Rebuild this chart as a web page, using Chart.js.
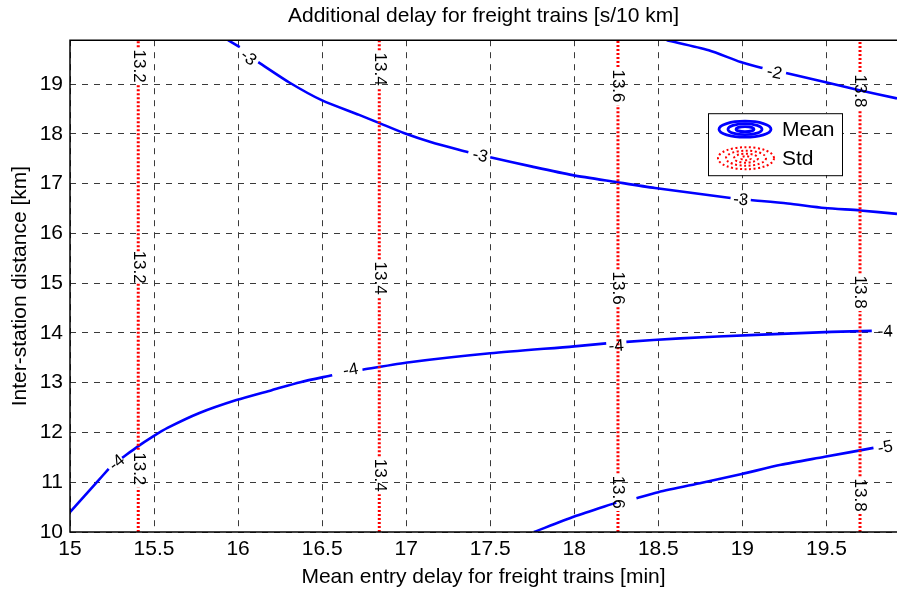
<!DOCTYPE html>
<html>
<head>
<meta charset="utf-8">
<script src="https://cdn.jsdelivr.net/npm/chart.js@4/dist/chart.umd.min.js"></script>
<style>
  body { margin: 0; background: #fff; }
  #delay-chart { display: block; }
</style>
</head>
<body>
<canvas id="delay-chart" width="897" height="592"></canvas>
<script>
// axis limits
const xMin = 15, xMax = 19.92;
const yMin = 10, yMax = 19.88;

// mean contours, null = break where the level label sits
const meanMinus2 = [[18.55, 19.88], [18.80, 19.68], [18.99, 19.44], [19.12, 19.32], null,
    [19.26, 19.22], [19.49, 19.04], [19.69, 18.88], [19.92, 18.71]];
const meanMinus3 = [[15.94, 19.88], [16.01, 19.74], null,
    [16.12, 19.44], [16.31, 19.02], [16.50, 18.67], [16.72, 18.38], [16.83, 18.23], [16.99, 18.01],
    [17.15, 17.83], [17.37, 17.63], null,
    [17.50, 17.53], [17.75, 17.34], [17.99, 17.17], [18.25, 17.03], [18.48, 16.91], [18.93, 16.71], null,
    [19.05, 16.67], [19.27, 16.60], [19.49, 16.51], [19.70, 16.46], [19.92, 16.39]];
const meanMinus4 = [[15.00, 10.40], [15.08, 10.70], [15.16, 11.00], [15.23, 11.27], null,
    [15.31, 11.49], [15.40, 11.71], [15.49, 11.91], [15.58, 12.09], [15.77, 12.39], [15.99, 12.65],
    [16.20, 12.85], [16.37, 13.01], [16.56, 13.15], null,
    [16.74, 13.26], [17.02, 13.41], [17.50, 13.59], [18.00, 13.73], [18.19, 13.79], null,
    [18.31, 13.82], [18.63, 13.89], [19.08, 13.96], [19.53, 14.02], [19.77, 14.04]];
const meanMinus5 = [[17.76, 10.00], [18.00, 10.31], [18.25, 10.59], null,
    [18.37, 10.68], [18.50, 10.80], [18.76, 10.99], [18.99, 11.16], [19.23, 11.35], [19.49, 11.51],
    [19.78, 11.69]];
const meanCurves = [meanMinus2, meanMinus3, meanMinus4, meanMinus5];

// level labels on the mean contours: [curve index, text, x, y]
const meanLabels = [
    [0, '-2', 19.19, 19.22],
    [1, '-3', 16.06, 19.52], [1, '-3', 17.44, 17.55], [1, '-3', 18.99, 16.67],
    [2, '-4', 15.28, 11.39], [2, '-4', 16.67, 13.25], [2, '-4', 18.25, 13.73], [2, '-4', 19.85, 14.02],
    [3, '-5', 19.85, 11.69]
];

// std contours (vertical), drawn pieces and label centres
const stdLevels = ['13.2', '13.4', '13.6', '13.8'];
const stdX = [15.406, 16.84, 18.26, 19.70];
const stdSegments = [
    [[10, 10.89], [11.65, 15.00], [15.64, 18.98], [19.74, 19.88]],
    [[10, 10.76], [11.52, 14.72], [15.48, 18.92], [19.68, 19.88]],
    [[10, 10.42], [11.18, 14.52], [15.28, 18.58], [19.34, 19.88]],
    [[10, 10.36], [11.12, 14.44], [15.20, 18.48], [19.24, 19.88]]
];
const stdLabelY = [
    [11.27, 15.32, 19.36],
    [11.14, 15.10, 19.30],
    [10.80, 14.90, 18.96],
    [10.74, 14.82, 18.86]
];

const FONT = '"Liberation Sans", Arial, Helvetica, sans-serif';
Chart.defaults.font.family = FONT;
Chart.defaults.color = '#000';

function curvePoints(curve) {
    let lastX = curve[0][0];
    return curve.map(p => {
        if (!p) return { x: lastX, y: null };
        lastX = p[0];
        return { x: p[0], y: p[1] };
    });
}

const datasets = [];

stdX.forEach((sx, i) => {
    const pts = [];
    stdSegments[i].forEach(seg => {
        pts.push({ x: sx, y: seg[0] }, { x: sx, y: seg[1] }, { x: sx, y: null });
    });
    datasets.push({
        label: 'Std ' + stdLevels[i],
        data: pts,
        borderColor: '#ff0000',
        borderWidth: 3,
        borderDash: [2, 2],
        pointRadius: 0,
        spanGaps: false
    });
});

meanCurves.forEach(c => {
    datasets.push({
        label: 'Mean',
        data: curvePoints(c),
        borderColor: '#0000ff',
        borderWidth: 2.6,
        pointRadius: 0,
        tension: 0.25,
        spanGaps: false
    });
});

// labels written along the contours
const contourLabels = {
    id: 'contourLabels',
    afterDatasetsDraw(chart) {
        const { ctx, scales: { x, y } } = chart;
        ctx.save();
        ctx.font = '17px ' + FONT;
        ctx.fillStyle = '#000';
        ctx.textAlign = 'center';
        ctx.textBaseline = 'middle';

        meanLabels.forEach(([ci, text, lx, ly]) => {
            const pts = meanCurves[ci].filter(p => p);
            let a = pts[pts.length - 2], b = pts[pts.length - 1];
            for (let k = 0; k < pts.length - 1; k++) {
                if (pts[k][0] <= lx && pts[k + 1][0] >= lx) { a = pts[k]; b = pts[k + 1]; break; }
            }
            const ang = Math.atan2(y.getPixelForValue(b[1]) - y.getPixelForValue(a[1]),
                                   x.getPixelForValue(b[0]) - x.getPixelForValue(a[0]));
            ctx.save();
            ctx.translate(x.getPixelForValue(lx), y.getPixelForValue(ly));
            ctx.rotate(ang);
            ctx.fillText(text, 0, 0);
            ctx.restore();
        });

        stdX.forEach((sx, i) => {
            stdLabelY[i].forEach(ly => {
                ctx.save();
                ctx.translate(x.getPixelForValue(sx), y.getPixelForValue(ly));
                ctx.rotate(Math.PI / 2);
                ctx.fillText(stdLevels[i], 0, 0);
                ctx.restore();
            });
        });
        ctx.restore();
    }
};

// axes box and the Mean / Std legend
const frameAndLegend = {
    id: 'frameAndLegend',
    afterDraw(chart) {
        const { ctx, chartArea: area } = chart;
        ctx.save();
        ctx.strokeStyle = '#000';
        ctx.lineWidth = 1.5;
        ctx.beginPath();
        ctx.moveTo(area.right, area.top);
        ctx.lineTo(area.left, area.top);
        ctx.lineTo(area.left, area.bottom);
        ctx.lineTo(area.right, area.bottom);
        ctx.stroke();

        const bx = area.left + 638, by = area.top + 73;
        ctx.fillStyle = '#fff';
        ctx.fillRect(bx, by, 134, 62);
        ctx.lineWidth = 1;
        ctx.strokeRect(bx + 0.5, by + 0.5, 134, 62);

        const cx = bx + 37;
        ctx.strokeStyle = '#0000ff';
        ctx.lineWidth = 2.8;
        [[26, 8], [17, 5.5], [9, 2.5]].forEach(([rx, ry]) => {
            ctx.beginPath();
            ctx.ellipse(cx, by + 16, rx, ry, 0, 0, Math.PI * 2);
            ctx.stroke();
        });

        ctx.strokeStyle = '#ff0000';
        ctx.lineWidth = 2;
        ctx.setLineDash([2, 2.5]);
        [[28, 11], [20, 7.5], [12, 4.5], [5, 2]].forEach(([rx, ry]) => {
            ctx.beginPath();
            ctx.ellipse(cx + 1, by + 45, rx, ry, 0, 0, Math.PI * 2);
            ctx.stroke();
        });
        ctx.setLineDash([]);

        ctx.fillStyle = '#000';
        ctx.font = '21px ' + FONT;
        ctx.textAlign = 'left';
        ctx.textBaseline = 'middle';
        ctx.fillText('Mean', bx + 74, by + 17);
        ctx.fillText('Std', bx + 74, by + 46);
        ctx.restore();
    }
};

const gridOpts = { color: '#3a3a3a', lineWidth: 1, drawTicks: false };

new Chart(document.getElementById('delay-chart'), {
    type: 'line',
    data: { datasets: datasets },
    options: {
        responsive: false,
        animation: false,
        layout: { padding: 0 },
        plugins: {
            legend: { display: false },
            tooltip: { enabled: false },
            title: {
                display: true,
                fullSize: false,
                text: 'Additional delay for freight trains [s/10 km]',
                font: { size: 21, weight: 'normal' },
                color: '#000',
                padding: { top: 4, bottom: 11 }
            }
        },
        scales: {
            x: {
                type: 'linear',
                min: xMin,
                max: xMax,
                grid: gridOpts,
                border: { display: false, dash: [6, 6] },
                ticks: {
                    stepSize: 0.5, includeBounds: false, font: { size: 21 }, padding: 5,
                    maxRotation: 0, autoSkip: false,
                    callback: v => String(Math.round(v * 10) / 10)
                },
                title: {
                    display: true,
                    text: 'Mean entry delay for freight trains [min]',
                    font: { size: 21 },
                    padding: { top: 0, bottom: 2 }
                },
                afterFit: s => { s.height = 60; }
            },
            y: {
                type: 'linear',
                min: yMin,
                max: yMax,
                grid: gridOpts,
                border: { display: false, dash: [6, 6] },
                ticks: { stepSize: 1, includeBounds: false, font: { size: 21 }, padding: 7 },
                title: {
                    display: true,
                    text: 'Inter-station distance [km]',
                    font: { size: 21 },
                    padding: { top: 8, bottom: 0 }
                },
                afterFit: s => { s.width = 70; }
            }
        }
    },
    plugins: [contourLabels, frameAndLegend]
});
</script>
</body>
</html>
